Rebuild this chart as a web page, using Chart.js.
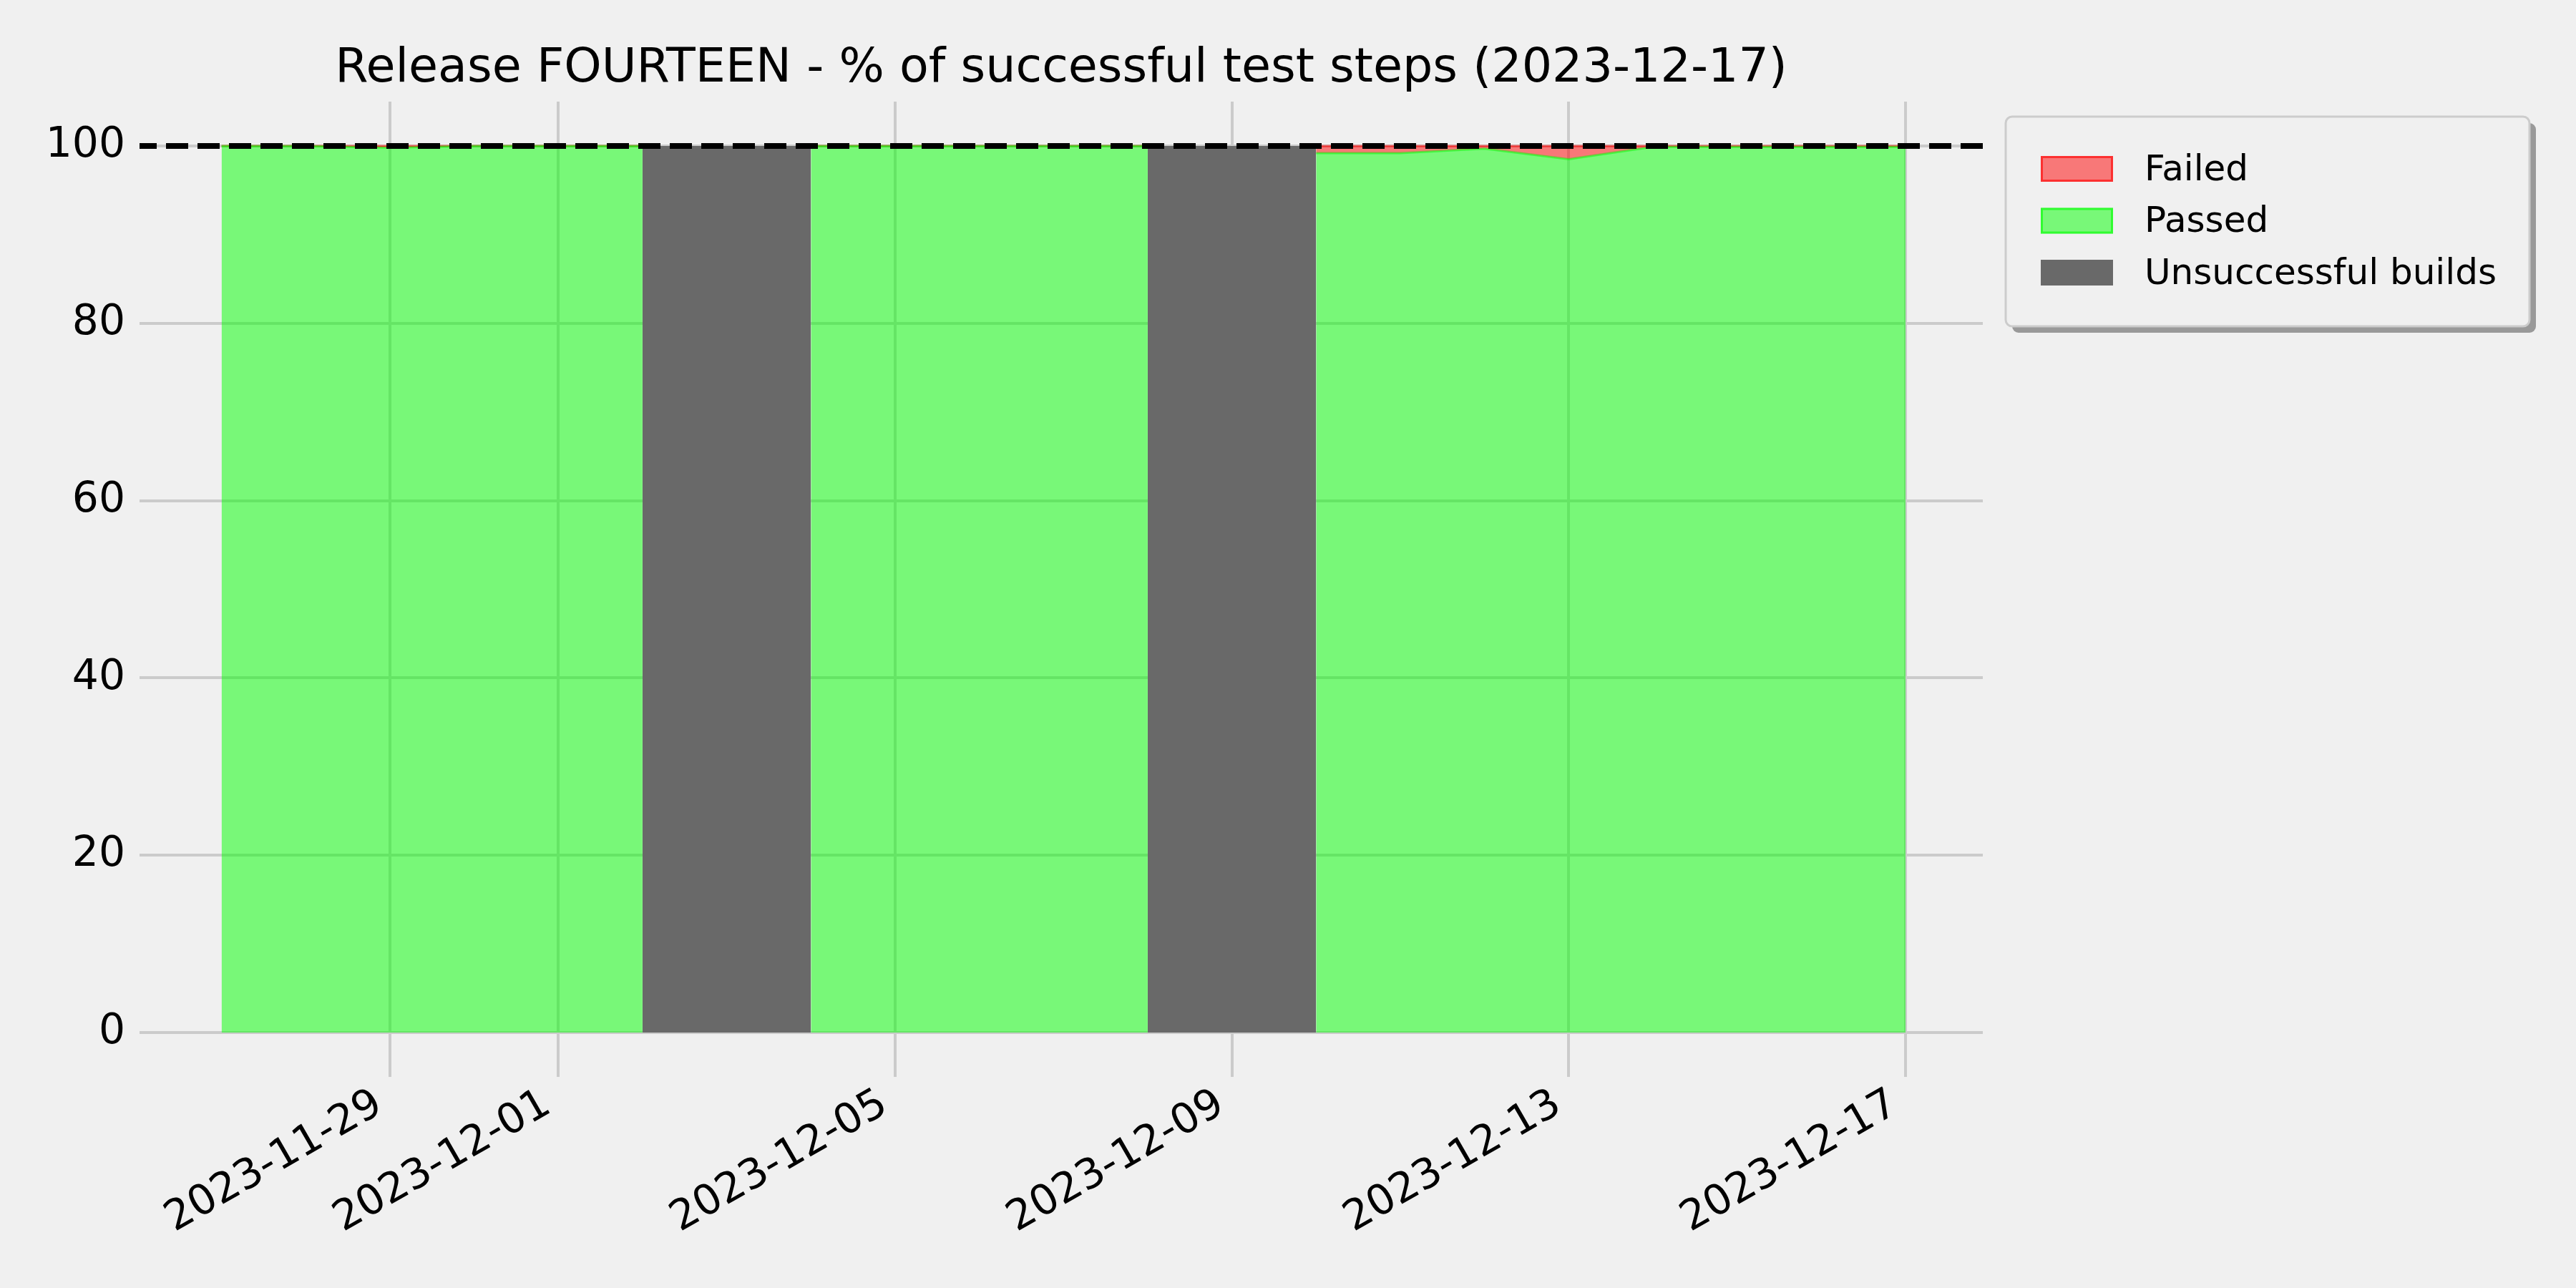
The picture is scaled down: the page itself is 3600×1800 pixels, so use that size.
<!DOCTYPE html>
<html>
<head>
<meta charset="utf-8">
<script src="https://cdn.jsdelivr.net/npm/chart.js@4.4.0/dist/chart.umd.min.js"></script>
<style>
  html, body { margin: 0; padding: 0; background: #f0f0f0; }
  canvas { display: block; background: #f0f0f0; }
</style>
</head>
<body>
<canvas id="chart" width="3600" height="1800"></canvas>
<script>
// Daily test runs (null = build did not succeed, no test results)
const runDates = [
  "2023-11-27", "2023-11-28", "2023-11-29", "2023-11-30", "2023-12-01", "2023-12-02", "2023-12-03",
  "2023-12-04", "2023-12-05", "2023-12-06", "2023-12-07", "2023-12-08", "2023-12-09", "2023-12-10",
  "2023-12-11", "2023-12-12", "2023-12-13", "2023-12-14", "2023-12-15", "2023-12-16", "2023-12-17",
];
const passedPct = [100, 100, 99.8, 100, 100, 100, null, 100, 100, 100, 100, 100, null, 99.2, 99.2, 99.7, 98.5, 99.9, 99.9, 99.9, 99.9];
const failedPct = [0, 0, 0.2, 0, 0, 0, null, 0, 0, 0, 0, 0, null, 0.8, 0.8, 0.3, 1.5, 0.1, 0.1, 0.1, 0.1];
const brokenBuildDates = ["2023-12-03", "2023-12-09"];
const xTickDates = ["2023-11-29", "2023-12-01", "2023-12-05", "2023-12-09", "2023-12-13", "2023-12-17"];
const yTicks = [0, 20, 40, 60, 80, 100];
const targetPct = 100;

const DAY = 86400000;
const dayNum = s => Date.UTC(+s.slice(0, 4), +s.slice(5, 7) - 1, +s.slice(8, 10)) / DAY;
const fmtDay = v => new Date(v * DAY).toISOString().slice(0, 10);

// axis range (in days)
const xMin = dayNum(runDates[0]) - 0.974;
const xMax = dayNum(runDates[runDates.length - 1]) + 0.918;

const FONT = "DejaVu Sans";
const GREEN = "rgba(0,255,0,0.5)";
const RED = "rgba(255,0,0,0.5)";
const GRAY = "#696969";

// matplotlib-like legend box with drop shadow
const legendBox = {
  id: "legendBox",
  afterDraw(chart) {
    const ctx = chart.ctx;
    const x = 2803, y = 163, w = 732, h = 293, r = 9;
    const rr = (px, py) => { ctx.beginPath(); ctx.roundRect(px, py, w, h, r); };
    ctx.save();
    rr(x + 9, y + 9); ctx.fillStyle = "#999999"; ctx.fill();
    rr(x, y); ctx.fillStyle = "#f0f0f0"; ctx.fill();
    ctx.lineWidth = 3; ctx.strokeStyle = "#cccccc"; ctx.stroke();
    const items = [
      { label: "Failed", face: "#f87878", edge: "rgba(255,0,0,0.6)" },
      { label: "Passed", face: "#78f878", edge: "rgba(0,255,0,0.6)" },
      { label: "Unsuccessful builds", face: GRAY, edge: null },
    ];
    ctx.font = `50px "${FONT}"`;
    ctx.textBaseline = "middle";
    ctx.textAlign = "left";
    items.forEach((it, i) => {
      const top = 218 + i * 72.5;
      ctx.fillStyle = it.face;
      ctx.fillRect(2852, top, 101, 36);
      if (it.edge) { ctx.lineWidth = 3; ctx.strokeStyle = it.edge; ctx.strokeRect(2853.5, top + 1.5, 98, 33); }
      ctx.fillStyle = "#000";
      ctx.fillText(it.label, 2997, top + 21);
    });
    ctx.restore();
  },
};

const passedData = runDates.map((d, i) => ({ x: dayNum(d), y: passedPct[i] }));
const stackTopData = runDates.map((d, i) => ({
  x: dayNum(d),
  y: passedPct[i] == null ? null : passedPct[i] + failedPct[i],
}));

new Chart(document.getElementById("chart"), {
  type: "line",
  data: {
    datasets: [
      { label: "Passed", data: passedData, fill: "origin", backgroundColor: GREEN, borderColor: GREEN,
        borderWidth: 3, pointRadius: 0, tension: 0, spanGaps: false, order: 1 },
      { label: "Failed", data: stackTopData, fill: "-1", backgroundColor: RED, borderColor: RED,
        borderWidth: 3, pointRadius: 0, tension: 0, spanGaps: false, order: 1 },
      ...brokenBuildDates.map(d => ({
        label: "Unsuccessful builds",
        data: [{ x: dayNum(d) - 1, y: targetPct }, { x: dayNum(d) + 1, y: targetPct }],
        fill: "origin", backgroundColor: GRAY, borderWidth: 0, pointRadius: 0, order: 1,
      })),
      { label: "target", data: [{ x: xMin, y: targetPct }, { x: xMax, y: targetPct }],
        borderColor: "#000", borderWidth: 8, borderDash: [31, 13], borderDashOffset: 7,
        pointRadius: 0, fill: false, order: -1 },
    ],
  },
  options: {
    responsive: false,
    animation: false,
    devicePixelRatio: 1,
    layout: { padding: { left: 0, top: 0, right: 829, bottom: 0 } },
    plugins: {
      legend: { display: false },
      tooltip: { enabled: false },
      title: {
        display: true, fullSize: false, align: "center",
        text: "Release FOURTEEN - % of successful test steps (2023-12-17)",
        color: "#000", font: { family: FONT, size: 66.7, weight: "normal", lineHeight: 1.2 },
        padding: { top: 57, bottom: 5 },
      },
    },
    scales: {
      x: {
        type: "linear", min: xMin, max: xMax,
        afterBuildTicks: s => { s.ticks = xTickDates.map(d => ({ value: dayNum(d) })); },
        afterFit: s => { s.height = 295; },
        grid: { color: "#cbcbcb", lineWidth: 4, drawTicks: false },
        border: { display: false },
        ticks: {
          autoSkip: false, minRotation: 30, maxRotation: 30, padding: 4, labelOffset: -15, color: "#000",
          font: { family: FONT, size: 58.3 }, callback: v => fmtDay(v),
        },
      },
      y: {
        min: -5, max: 105,
        afterBuildTicks: s => { s.ticks = yTicks.map(v => ({ value: v })); },
        afterFit: s => { s.width = 195; },
        grid: { color: "#cbcbcb", lineWidth: 4, drawTicks: false },
        border: { display: false },
        ticks: { padding: 20, color: "#000", font: { family: FONT, size: 58.3 } },
      },
    },
  },
  plugins: [legendBox],
});
</script>
</body>
</html>
